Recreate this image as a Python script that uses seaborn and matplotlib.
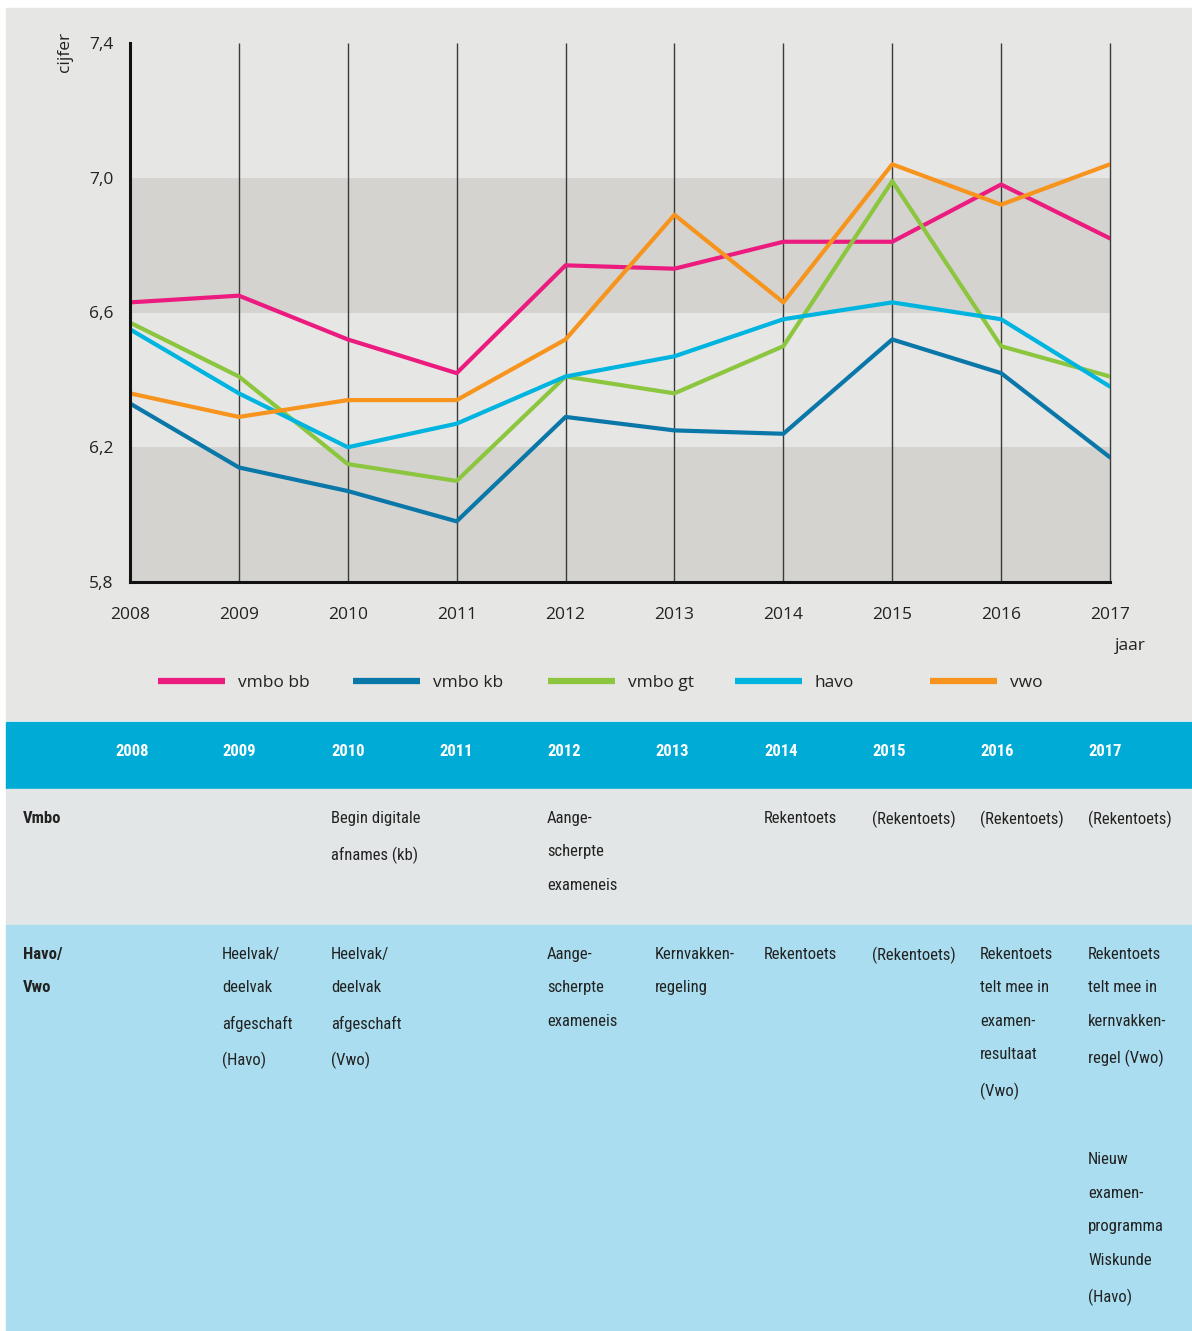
import numpy as np
import pandas as pd
import matplotlib.pyplot as plt
import seaborn as sns
from matplotlib import font_manager as fm
from matplotlib.legend import Legend
from matplotlib.lines import Line2D
from matplotlib.patches import Rectangle

# --- data ---
jaren = [2008, 2009, 2010, 2011, 2012, 2013, 2014, 2015, 2016, 2017]
vmbo_bb = [6.63, 6.65, 6.52, 6.42, 6.74, 6.73, 6.81, 6.81, 6.98, 6.82]
vmbo_kb = [6.33, 6.14, 6.07, 5.98, 6.29, 6.25, 6.24, 6.52, 6.42, 6.17]
vmbo_gt = [6.57, 6.41, 6.15, 6.10, 6.41, 6.36, 6.50, 6.99, 6.50, 6.41]
havo = [6.55, 6.36, 6.20, 6.27, 6.41, 6.47, 6.58, 6.63, 6.58, 6.38]
vwo = [6.36, 6.29, 6.34, 6.34, 6.52, 6.89, 6.63, 7.04, 6.92, 7.04]

reeksen = ["vmbo bb", "vmbo kb", "vmbo gt", "havo", "vwo"]
kleuren = ["#ec1b7f", "#0a77a9", "#8cc63f", "#00b4e0", "#f7941d"]

y_ticks = [5.8, 6.2, 6.6, 7.0, 7.4]
y_labels = ["5,8", "6,2", "6,6", "7,0", "7,4"]

rij_labels = ["Vmbo", "Havo/\nVwo"]
vmbo_events = ["", "", "Begin digitale\nafnames (kb)", "", "Aange-\nscherpte\nexameneis",
               "", "Rekentoets", "(Rekentoets)", "(Rekentoets)", "(Rekentoets)"]
havo_events = ["", "Heelvak/\ndeelvak\nafgeschaft\n(Havo)", "Heelvak/\ndeelvak\nafgeschaft\n(Vwo)",
               "", "Aange-\nscherpte\nexameneis", "Kernvakken-\nregeling", "Rekentoets",
               "(Rekentoets)", "Rekentoets\ntelt mee in\nexamen-\nresultaat\n(Vwo)",
               "Rekentoets\ntelt mee in\nkernvakken-\nregel (Vwo)\n\n\nNieuw\nexamen-\nprogramma\nWiskunde\n(Havo)"]

df = pd.DataFrame({
    "jaar": jaren * 5,
    "cijfer": vmbo_bb + vmbo_kb + vmbo_gt + havo + vwo,
    "onderwijs": [r for r in reeksen for _ in jaren],
})


# zoek een smalle (condensed) letter voor de tabel
def smalle_letter(gewicht, grootte):
    voorkeur = ["Liberation Sans Narrow", "Roboto Condensed", "Open Sans", "Noto Sans",
                "Lato", "Inter", "Roboto", "DejaVu Sans"]
    for naam in voorkeur:
        for f in fm.fontManager.ttflist:
            w = f.weight if isinstance(f.weight, int) else fm.weight_dict.get(f.weight, 400)
            smal = ("Narrow" in f.name or "Condensed" in f.name
                    or f.stretch in ("condensed", "semi-condensed", "extra-condensed"))
            if f.name.startswith(naam) and smal and f.style == "normal" and abs(w - gewicht) < 100:
                return fm.FontProperties(fname=f.fname, size=grootte)
    return fm.FontProperties(family="DejaVu Sans", weight=gewicht, size=grootte * 0.85)


fs = 12
smal_reg = smalle_letter(400, fs)
smal_bold = smalle_letter(700, fs)

# --- figure ---
sns.set_style("white")
plt.rcParams["font.family"] = ["Open Sans", "DejaVu Sans"]
W, H = 1192, 1331
fig = plt.figure(figsize=(W / 100, H / 100), dpi=100, facecolor="white")


def fx(px):
    return px / W


def fy(py):
    return 1 - py / H


# achtergrondvlakken
for top, bot, kleur in [(8, 720, "#e6e6e4"), (722, 789, "#00abd5"),
                        (789, 925, "#e3e6e6"), (925, 1331, "#a9ddef")]:
    fig.patches.append(Rectangle((fx(6), fy(bot)), 1 - fx(6), fy(top) - fy(bot),
                                 transform=fig.transFigure, color=kleur, zorder=-5))

ax = fig.add_axes([fx(130), fy(582), fx(1110) - fx(130), fy(43) - fy(582)])
ax.set_facecolor("none")

ax.axhspan(5.8, 6.2, color="#d4d3cf", zorder=0, lw=0)
ax.axhspan(6.6, 7.0, color="#d4d3cf", zorder=0, lw=0)
ax.vlines(jaren[1:], 5.8, 7.4, color="#3a3a3a", lw=1.0, zorder=1, clip_on=False)

sns.lineplot(data=df, x="jaar", y="cijfer", hue="onderwijs", hue_order=reeksen,
             palette=kleuren, linewidth=3.0, legend=False, ax=ax, zorder=3)

ax.set_xlim(2008, 2017)
ax.set_ylim(5.8, 7.4)
ax.set_xticks(jaren)
ax.set_xticklabels([str(j) for j in jaren], fontsize=12.5, color="#222222")
ax.set_yticks(y_ticks)
ax.set_yticklabels(y_labels, fontsize=12.5, color="#222222")
ax.tick_params(axis="x", length=0, pad=18)
ax.tick_params(axis="y", length=0, pad=12)
ax.set_xlabel("")
ax.set_ylabel("")
for s in ["top", "right"]:
    ax.spines[s].set_visible(False)
for s in ["left", "bottom"]:
    ax.spines[s].set_linewidth(2.2)
    ax.spines[s].set_color("#111111")
    ax.spines[s].set_zorder(4)

fig.text(fx(65), fy(52), "cijfer", rotation=90, ha="center", va="center",
         fontsize=12.5, color="#222222")
fig.text(fx(1130), fy(646), "jaar", ha="center", va="center",
         fontsize=12.5, color="#222222")

# legenda: vijf losse items op vaste posities
leg_x = [158, 353, 548, 735, 930]
for naam, kleur, x in zip(reeksen, kleuren, leg_x):
    h = Line2D([0], [0], color=kleur, lw=4.5, solid_capstyle="butt")
    leg = Legend(ax, [h], [naam], loc="center left", bbox_to_anchor=(fx(x), fy(683)),
                 bbox_transform=fig.transFigure, frameon=False, fontsize=12.5,
                 handlelength=3.85, handletextpad=0.75,
                 borderpad=0, borderaxespad=0, labelcolor="#222222")
    ax.add_artist(leg)

# --- tabel onder de grafiek ---
col_x = [115, 222, 331, 439, 547, 655, 764, 872, 980, 1088]
ls = 2.54
for j, x in zip(jaren, col_x):
    fig.text(fx(x), fy(751), str(j), ha="left", va="center",
             color="white", fontproperties=smal_bold)

for y0, lab in zip([811, 947], rij_labels):
    fig.text(fx(23), fy(y0), lab, ha="left", va="top",
             color="#222222", fontproperties=smal_bold, linespacing=ls)

for y0, events in zip([811, 947], [vmbo_events, havo_events]):
    for x, t in zip(col_x, events):
        if t:
            fig.text(fx(x), fy(y0), t, ha="left", va="top",
                     color="#222222", fontproperties=smal_reg, linespacing=ls)

fig.savefig("out.png", dpi=100, facecolor="white")
